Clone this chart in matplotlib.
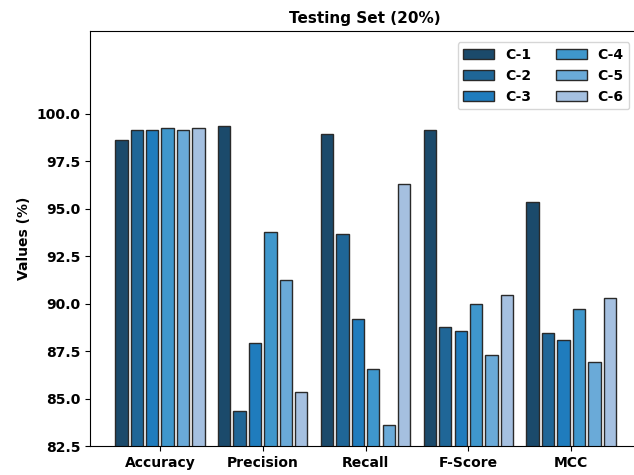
import matplotlib
matplotlib.use("Agg")
import matplotlib.pyplot as plt
import numpy as np

metrics = ["Accuracy", "Precision", "Recall", "F-Score", "MCC"]
series_names = ["C-1", "C-2", "C-3", "C-4", "C-5", "C-6"]
c1 = [98.63, 99.38, 98.96, 99.16, 95.38]
c2 = [99.16, 84.33, 93.69, 88.77, 88.44]
c3 = [99.16, 87.91, 89.19, 88.54, 88.10]
c4 = [99.28, 93.80, 86.54, 90.00, 89.74]
c5 = [99.16, 91.25, 83.62, 87.32, 86.93]
c6 = [99.28, 85.36, 96.29, 90.47, 90.28]
values = [c1, c2, c3, c4, c5, c6]
colors = ["#1b4a6b", "#1f6697", "#1f7cbd", "#3f97cc", "#6aaad8", "#a5c0e0"]

fig = plt.figure(figsize=(6.34, 4.75), dpi=100)
ax = fig.add_axes([0.142, 0.061, 0.866, 0.873])

x = np.arange(len(metrics))
step = 0.15
width = 0.12
for i, (name, vals) in enumerate(zip(series_names, values)):
    ax.bar(x + (i - 2.5) * step, vals, width, label=name, color=colors[i],
           edgecolor="#2a2a2a", linewidth=1.0)

ymax = max(max(v) for v in values) * 1.05
ax.set_ylim(82.5, ymax)
ax.set_xlim(-0.68, 4.66)
ax.set_yticks(np.arange(82.5, 100.01, 2.5))
ax.set_yticklabels([f"{t:.1f}" for t in np.arange(82.5, 100.01, 2.5)],
                   fontweight="bold", fontsize=10)
ax.set_xticks(x)
ax.set_xticklabels(metrics, fontweight="bold", fontsize=10)
ax.set_ylabel("Values (%)", fontweight="bold", fontsize=10)
ax.set_title("Testing Set (20%)", fontweight="bold", fontsize=11)
ax.spines["right"].set_visible(False)

leg = ax.legend(ncol=2, loc="upper right", bbox_to_anchor=(0.995, 0.99),
                prop={"weight": "bold", "size": 10}, handlelength=2.2,
                columnspacing=1.8, framealpha=0.8)

fig.savefig("out.png", dpi=100)
